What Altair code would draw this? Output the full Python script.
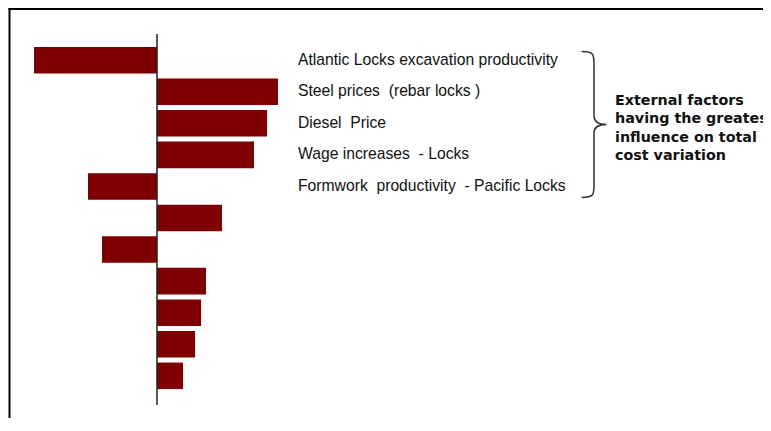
import altair as alt
import pandas as pd

# ---- data ----
bar_index = list(range(11))
bar_values = [-123, 121, 110, 97, -69, 65, -55, 49, 44, 38, 26]

label_index = [0, 1, 2, 3, 4]
label_texts = [
    "Atlantic Locks excavation productivity",
    "Steel prices\u00a0 (rebar locks\u00a0)",
    "Diesel\u00a0 Price",
    "Wage increases\u00a0 - Locks",
    "Formwork\u00a0 productivity\u00a0 - Pacific Locks",
]
note_lines = [
    "External factors",
    "having the greatest",
    "influence on total",
    "cost variation",
]

W, H = 755, 410
bars_df = pd.DataFrame({"idx": bar_index, "value": bar_values})
labels_df = pd.DataFrame({"idx": label_index, "label": label_texts})
one = pd.DataFrame({"z": [0]})

xscale = alt.Scale(domain=[-149, 606], range=[0, W], nice=False, zero=False)
yscale = alt.Scale(domain=bar_index, range=[36.4, 383.6],
                   paddingInner=0.16, paddingOuter=0.08)

bars = alt.Chart(bars_df).mark_bar(color="#7F0000").encode(
    y=alt.Y("idx:O", scale=yscale, axis=None),
    x=alt.X("value:Q", scale=xscale, axis=None),
    x2=alt.datum(0),
)

axis_line = alt.Chart(one).mark_rule(color="#222222", strokeWidth=1.5).encode(
    x=alt.X("z:Q", scale=xscale, axis=None),
    y=alt.value(26),
    y2=alt.value(397),
)

labels = alt.Chart(labels_df).mark_text(
    align="left", baseline="middle", font="Liberation Sans",
    fontSize=15.7, color="#111111", dy=-0.5
).encode(
    y=alt.Y("idx:O", scale=yscale, axis=None),
    x=alt.value(290),
    text="label:N",
)

brace_path = ("M -0.17 -1 C 0 -1 0 -0.96 0 -0.82 L 0 -0.12 "
              "C 0 -0.03 0.06 0 0.17 0 C 0.06 0 0 0.03 0 0.12 "
              "L 0 0.82 C 0 0.96 0 1 -0.17 1")
brace = alt.Chart(one).mark_point(
    shape=brace_path, filled=False, stroke="#333333", strokeWidth=1.5,
    size=146 * 146, opacity=1
).encode(x=alt.value(586), y=alt.value(116.5))

note = alt.Chart(one).mark_text(
    align="left", baseline="middle", font="DejaVu Sans", fontWeight="bold",
    fontSize=14.3, lineHeight=18.3, color="#111111", lineBreak="\n"
).encode(
    x=alt.value(607),
    y=alt.value(93),
    text=alt.value("\n".join(note_lines)),
)

frame_left = alt.Chart(one).mark_rule(color="black", strokeWidth=2).encode(
    x=alt.value(1.5), y=alt.value(0), y2=alt.value(H)
)
frame_top = alt.Chart(one).mark_rule(color="black", strokeWidth=2).encode(
    y=alt.value(1), x=alt.value(0.5), x2=alt.value(W)
)

chart = alt.layer(
    bars, axis_line, labels, brace, note, frame_left, frame_top
).properties(
    width=W, height=H, padding=0, autosize=alt.AutoSizeParams(type="none"),
    background="white"
).configure_view(stroke=None)

chart.save("out.html", embed_options={"renderer": "svg", "actions": False})
